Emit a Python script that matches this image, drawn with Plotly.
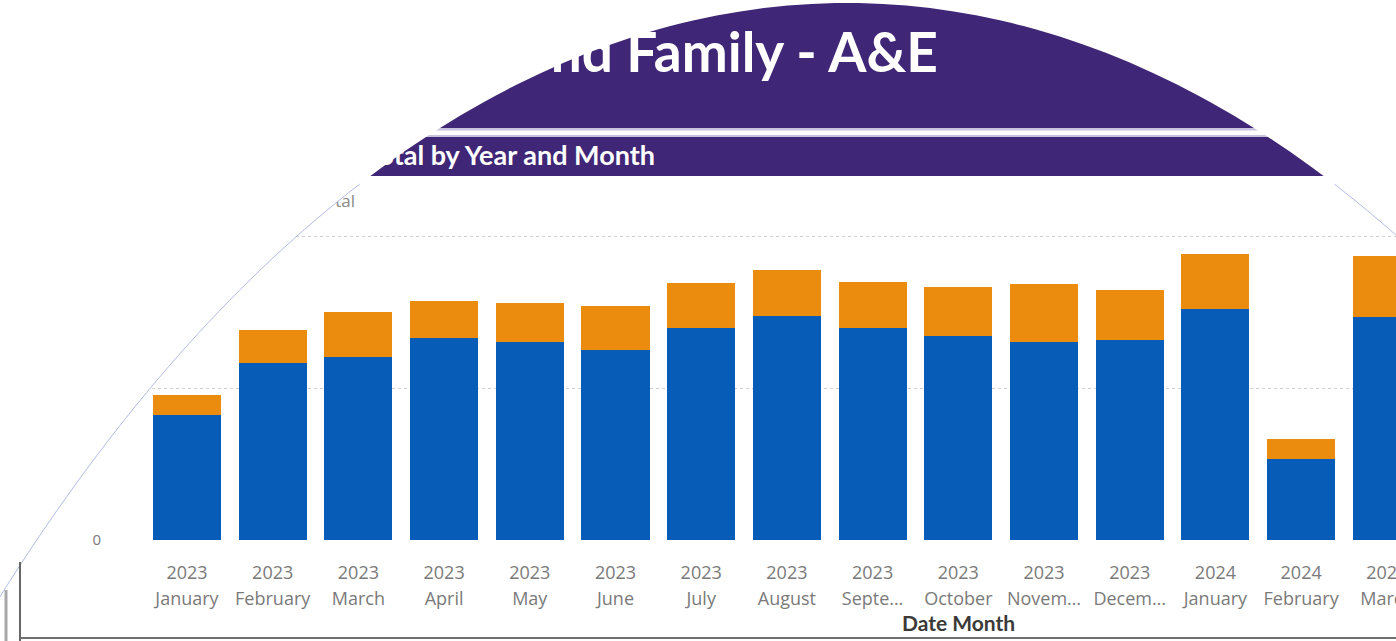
import math
import plotly.graph_objects as go

# ---------------- data ----------------
years = ["2023", "2023", "2023", "2023", "2023", "2023", "2023", "2023",
         "2023", "2023", "2023", "2023", "2024", "2024", "2024"]
months = ["January", "February", "March", "April", "May", "June", "July",
          "August", "Septe…", "October", "Novem…", "Decem…", "January",
          "February", "March"]
blue_values = [825, 1168, 1208, 1333, 1307, 1254, 1399, 1479, 1399, 1347,
               1307, 1320, 1525, 535, 1472]
orange_values = [132, 218, 297, 245, 257, 291, 297, 303, 304, 323, 383,
                 330, 363, 132, 403]
y_tickvals = [0, 1000, 2000]
y_ticktext = ["0", "1K", "2K"]

title_text = "nd Family - A&E"
subtitle_text = "otal by Year and Month"
ytitle_text = "tal"
xtitle_text = "Date Month"

# ---------------- layout helpers ----------------
W, H = 1396, 641
BLUE = "#065cb6"
ORANGE = "#eb8c0e"
PURPLE = "#3f2676"


def px(x):
    return x / W


def py(y):
    return 1 - y / H


x_idx = list(range(len(months)))

fig = go.Figure()
fig.add_trace(go.Bar(x=x_idx, y=blue_values, marker=dict(color=BLUE, line=dict(width=0)),
                     name="Series A"))
fig.add_trace(go.Bar(x=x_idx, y=orange_values, marker=dict(color=ORANGE, line=dict(width=0)),
                     name="Series B"))
# invisible helper trace so the second (month-label) x axis is drawn
fig.add_trace(go.Scatter(x=x_idx, y=blue_values, xaxis="x2", yaxis="y", mode="markers",
                         marker=dict(opacity=0, size=1), hoverinfo="skip",
                         showlegend=False))

# ellipse (visible window)
cx, cy, ea, eb = 847, 2731, 1360, 2728
pts = []
N = 720
for k in range(N + 1):
    t = 2 * math.pi * k / N
    pts.append((cx + ea * math.cos(t), cy + eb * math.sin(t)))
ell = "M" + " L".join(f"{px(a):.5f},{py(b):.5f}" for a, b in pts[:-1]) + " Z"
mask_path = "M0,0 L1,0 L1,1 L0,1 Z " + ell

left_edge = sorted([(a, b) for a, b in pts if 176 < b < 700 and a < cx], key=lambda p: p[1])
right_edge = sorted([(a, b) for a, b in pts if 176 < b < 700 and a > cx], key=lambda p: p[1])


def polyline(p):
    return "M" + " L".join(f"{px(a):.5f},{py(b):.5f}" for a, b in p)


shapes = []
shapes.append(dict(type="rect", xref="paper", yref="paper", x0=0, x1=1,
                   y0=py(176), y1=1, fillcolor=PURPLE, line=dict(width=0),
                   layer="above"))
shapes.append(dict(type="rect", xref="paper", yref="paper", x0=0, x1=1,
                   y0=py(137), y1=py(128), fillcolor="#c8c2de", line=dict(width=0),
                   layer="above"))
shapes.append(dict(type="rect", xref="paper", yref="paper", x0=0, x1=1,
                   y0=py(135), y1=py(130.5), fillcolor="#ffffff", line=dict(width=0),
                   layer="above"))
shapes.append(dict(type="rect", xref="paper", yref="paper", x0=px(200), x1=px(941),
                   y0=py(77), y1=py(23), fillcolor="rgba(0,0,0,0)", line=dict(width=0),
                   layer="above",
                   label=dict(text=title_text, textposition="middle right", padding=0,
                              font=dict(family="Lato", size=55, color="white", weight="bold"))))
shapes.append(dict(type="rect", xref="paper", yref="paper", x0=px(200), x1=px(658),
                   y0=py(169), y1=py(139), fillcolor="rgba(0,0,0,0)", line=dict(width=0),
                   layer="above",
                   label=dict(text=subtitle_text, textposition="middle right", padding=0,
                              font=dict(family="Lato", size=27, color="white", weight="bold"))))
shapes.append(dict(type="rect", xref="paper", yref="paper", x0=px(200), x1=px(358),
                   y0=py(213), y1=py(189), fillcolor="rgba(0,0,0,0)", line=dict(width=0),
                   layer="above",
                   label=dict(text=ytitle_text, textposition="middle right", padding=0,
                              font=dict(family="Open Sans", size=17, color="#8a8886"))))
shapes.append(dict(type="path", xref="paper", yref="paper", path=mask_path,
                   fillcolor="white", fillrule="evenodd", line=dict(width=0), layer="above"))
for edge in (left_edge, right_edge):
    shapes.append(dict(type="path", xref="paper", yref="paper", path=polyline(edge),
                       line=dict(width=1, color="#b4bbe4"), layer="above"))
shapes.append(dict(type="line", xref="paper", yref="paper", x0=px(20), x1=px(20),
                   y0=py(562), y1=0, line=dict(width=2, color="#666666"), layer="above"))
shapes.append(dict(type="line", xref="paper", yref="paper", x0=px(6), x1=px(6),
                   y0=py(590), y1=0, line=dict(width=3, color="#a8a8a8"), layer="above"))
shapes.append(dict(type="line", xref="paper", yref="paper", x0=px(20), x1=1,
                   y0=py(638), y1=py(638), line=dict(width=2, color="#707070"), layer="above"))

tick_font = dict(family="Open Sans", size=18, color="#7a7a7a")
fig.update_layout(
    width=W, height=H,
    margin=dict(l=0, r=0, t=0, b=0, autoexpand=False),
    paper_bgcolor="white", plot_bgcolor="white",
    barmode="stack", bargap=0.205,
    showlegend=False,
    shapes=shapes,
    font=dict(family="Open Sans", color="#777777"),
    xaxis=dict(domain=[px(110), 1], range=[-0.898, 14.107], automargin=False,
               tickmode="array", tickvals=x_idx, ticktext=years,
               tickfont=tick_font, showgrid=False, ticklabeloverflow="allow",
               zeroline=False, showline=False, ticks="", ticklabelstandoff=20),
    xaxis2=dict(domain=[px(110), 1], range=[-0.898, 14.107], automargin=False,
                overlaying="x", anchor="y", side="bottom", matches="x",
                tickmode="array", tickvals=x_idx, ticktext=months,
                tickfont=tick_font, showgrid=False, ticklabeloverflow="allow",
                zeroline=False, showline=False, ticks="", ticklabelstandoff=46),
    yaxis=dict(domain=[py(540), py(215)], range=[0, 2145], automargin=False,
               tickmode="array", tickvals=y_tickvals, ticktext=y_ticktext,
               tickfont=dict(family="Open Sans", size=15, color="#7a7a7a"),
               showgrid=True, gridcolor="#cfcfcf", griddash="dot", gridwidth=1,
               zeroline=False, showline=False, ticks="", ticklabelstandoff=8),
    annotations=[dict(text=xtitle_text, xref="paper", yref="paper",
                      x=px(958), y=py(622), showarrow=False,
                      xanchor="center", yanchor="middle",
                      font=dict(family="Lato", size=21, color="#3b3a39", weight="bold"))],
)

fig.write_html("out.html")
